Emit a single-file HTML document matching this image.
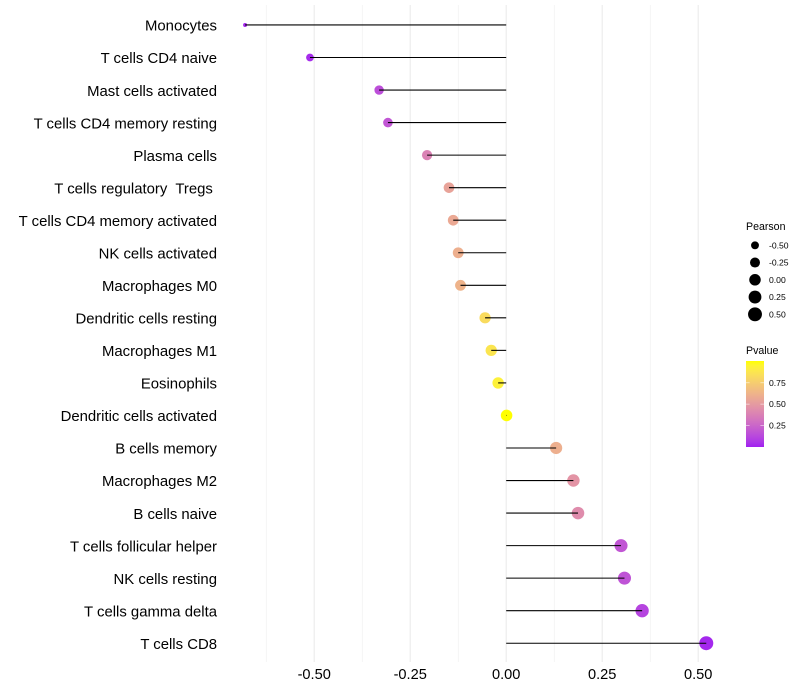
<!DOCTYPE html>
<html lang="en">
<head>
<meta charset="utf-8">
<title>Immune cell correlation lollipop chart</title>
<style>
html,body{margin:0;padding:0;background:#fff;}
svg{display:block;}
text{font-family:"Liberation Sans",Arial,sans-serif;fill:#000;white-space:pre;}
</style>
</head>
<body>
<svg id="chart" xmlns="http://www.w3.org/2000/svg" width="800" height="700" viewBox="0 0 800 700">
  <defs>
    <linearGradient id="pvalue-gradient" x1="0" y1="1" x2="0" y2="0"></linearGradient>
  </defs>
  <rect width="800" height="700" fill="#ffffff"/>
  <g id="grid"></g>
  <g id="points"></g>
  <g id="segments"></g>
  <g id="ylabels"></g>
  <g id="xlabels"></g>
  <g id="size-legend">
    <text x="746" y="230" font-size="10.6">Pearson</text>
  </g>
  <g id="color-legend">
    <text x="746" y="354" font-size="10.6">Pvalue</text>
    <rect x="746" y="361" width="18" height="86" fill="url(#pvalue-gradient)"/>
  </g>
</svg>
<script>
const categories = ["Monocytes","T cells CD4 naive","Mast cells activated","T cells CD4 memory resting","Plasma cells","T cells regulatory  Tregs ","T cells CD4 memory activated","NK cells activated","Macrophages M0","Dendritic cells resting","Macrophages M1","Eosinophils","Dendritic cells activated","B cells memory","Macrophages M2","B cells naive","T cells follicular helper","NK cells resting","T cells gamma delta","T cells CD8"];
const pearsonValues = [-0.680,-0.511,-0.331,-0.308,-0.206,-0.149,-0.138,-0.125,-0.119,-0.055,-0.039,-0.021,0.001,0.130,0.175,0.187,0.299,0.308,0.354,0.521];
const pValues = [0.02,0.03,0.15,0.18,0.38,0.54,0.57,0.60,0.62,0.82,0.87,0.93,1.00,0.60,0.47,0.43,0.18,0.17,0.11,0.02];
const xTicks = [-0.5,-0.25,0,0.25,0.5];
const xTickLabels = ["-0.50","-0.25","0.00","0.25","0.50"];
const xMinorTicks = [-0.625,-0.375,-0.125,0.125,0.375];
const sizeBreaks = [-0.5,-0.25,0,0.25,0.5];
const sizeBreakLabels = ["-0.50","-0.25","0.00","0.25","0.50"];
const colorBreaks = [0.25,0.5,0.75];
const colorBreakLabels = ["0.25","0.50","0.75"];

const NS = "http://www.w3.org/2000/svg";
const make = (tag, attrs, parent, content) => {
  const el = document.createElementNS(NS, tag);
  for (const k in attrs) el.setAttribute(k, attrs[k]);
  if (content !== undefined) el.textContent = content;
  parent.appendChild(el);
  return el;
};
const xScale = v => 506.2 + v * 384;
const yScale = i => 24.97 + i * 32.54;
const pLegendY = p => 446.6 - p * 85;
const PANEL_TOP = 5, PANEL_BOTTOM = 662;
const pearsonMin = Math.min(...pearsonValues), pearsonMax = Math.max(...pearsonValues);
const radius = v => (4 + 10 * Math.sqrt((v - pearsonMin) / (pearsonMax - pearsonMin))) / 2;

/* ggplot-style gradient: interpolate purple -> yellow in CIE Lab */
const toLin = c => { c /= 255; return c <= 0.04045 ? c / 12.92 : Math.pow((c + 0.055) / 1.055, 2.4); };
const toSrgb = c => { const v = c <= 0.0031308 ? 12.92 * c : 1.055 * Math.pow(c, 1 / 2.4) - 0.055; return Math.round(Math.min(1, Math.max(0, v)) * 255); };
const rgb2lab = ([r, g, b]) => {
  r = toLin(r); g = toLin(g); b = toLin(b);
  const X = (0.4124 * r + 0.3576 * g + 0.1805 * b) / 0.95047, Y = 0.2126 * r + 0.7152 * g + 0.0722 * b, Z = (0.0193 * r + 0.1192 * g + 0.9505 * b) / 1.08883;
  const f = t => t > 0.008856 ? Math.cbrt(t) : 7.787 * t + 16 / 116;
  return [116 * f(Y) - 16, 500 * (f(X) - f(Y)), 200 * (f(Y) - f(Z))];
};
const lab2rgb = ([L, a, b]) => {
  const fy = (L + 16) / 116, fx = a / 500 + fy, fz = fy - b / 200;
  const inv = t => t * t * t > 0.008856 ? t * t * t : (t - 16 / 116) / 7.787;
  const X = inv(fx) * 0.95047, Y = inv(fy), Z = inv(fz) * 1.08883;
  return "rgb(" + toSrgb(3.2406 * X - 1.5372 * Y - 0.4986 * Z) + "," + toSrgb(-0.9689 * X + 1.8758 * Y + 0.0415 * Z) + "," + toSrgb(0.0557 * X - 0.204 * Y + 1.057 * Z) + ")";
};
const labLow = rgb2lab([160, 32, 240]), labHigh = rgb2lab([255, 255, 0]);
const colorFor = p => lab2rgb(labLow.map((c, i) => c + (labHigh[i] - c) * p));

/* gridlines */
const grid = document.getElementById("grid");
xMinorTicks.forEach(t => {
  const line = make("line", {x1: xScale(t), x2: xScale(t), y1: PANEL_TOP, y2: PANEL_BOTTOM, stroke: "#ebebeb", "stroke-width": 0.55}, grid);
  
  
});
xTicks.forEach(t => {
  const line = make("line", {x1: xScale(t), x2: xScale(t), y1: PANEL_TOP, y2: PANEL_BOTTOM, stroke: "#ebebeb", "stroke-width": 1.07}, grid);
  
  
});

/* marks and y labels */
const pointsG = document.getElementById("points");
const segG = document.getElementById("segments");
const yG = document.getElementById("ylabels");
categories.forEach((name, i) => {
  const v = pearsonValues[i], y = yScale(i);
  const dot = make("circle", {cx: xScale(v), cy: y, r: radius(v), fill: colorFor(pValues[i])}, pointsG);
  
  
  const seg = make("line", {x1: xScale(v), x2: xScale(0), y1: y, y2: y, stroke: "#000", "stroke-width": 1.07}, segG);
  
  
  const label = make("text", {x: 217, y: y + 5.7, "text-anchor": "end", "font-size": 14.9}, yG, name);
  
  
});

/* x labels */
const xG = document.getElementById("xlabels");
xTicks.forEach((t, i) => {
  const label = make("text", {x: xScale(t), y: 679, "text-anchor": "middle", "font-size": 14.6}, xG, xTickLabels[i]);
  
  
});

/* size legend */
const sizeG = document.getElementById("size-legend");
sizeBreaks.forEach((b, i) => {
  const y = 245.3 + i * 17.25;
  const dot = make("circle", {cx: 755, cy: y, r: radius(b), fill: "#000"}, sizeG);
  
  
  const label = make("text", {x: 769, y: y + 3, "font-size": 8.6}, sizeG, sizeBreakLabels[i]);
  
  
});

/* colour legend */
const grad = document.getElementById("pvalue-gradient");
for (let s = 0; s <= 20; s++) {
  const stop = make("stop", {offset: (s * 5) + "%", "stop-color": colorFor(s / 20)}, grad);
  
  
}
const colorG = document.getElementById("color-legend");
colorBreaks.forEach((b, i) => {
  const y = pLegendY(b);
  const left = make("line", {x1: 746, x2: 749.6, y1: y, y2: y, stroke: "#fff", "stroke-width": 0.5}, colorG);
  
  
  const right = make("line", {x1: 760.4, x2: 764, y1: y, y2: y, stroke: "#fff", "stroke-width": 0.5}, colorG);
  
  
  const label = make("text", {x: 769, y: y + 3, "font-size": 8.6}, colorG, colorBreakLabels[i]);
  
  
});
</script>
</body>
</html>
